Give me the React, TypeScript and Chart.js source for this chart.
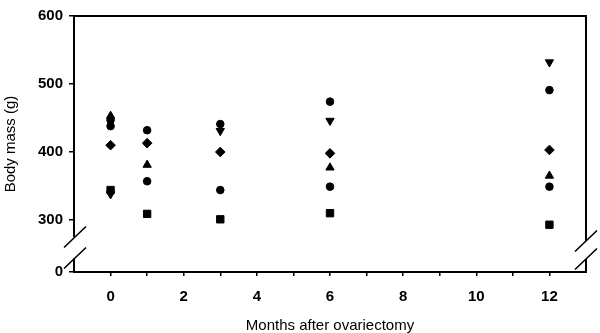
import React, { useEffect, useRef } from 'react';
import { Chart, registerables } from 'chart.js';

Chart.register(...registerables);

// Data (body mass in g)
const months = [0, 1, 3, 6, 12];
const circleA = [447, 432, 441, 474, 491];
const circleB = [438, 357, 344, 349, 349];
const triangleUp = [453, 381, null, 377, 365];
const triangleDown = [338, null, 431, 446, 532];
const diamond = [410, 413, 400, 398, 403];
const square = [344, 309, 301, 310, 293];

// Axis ticks
const yTickValues = [300, 400, 500, 600];
const xTickValues = [0, 1, 2, 3, 4, 5, 6, 7, 8, 9, 10, 11, 12];
const xLabelValues = [0, 2, 4, 6, 8, 10, 12];

// Broken y axis: the scale value where the "0" tick is drawn
const AXIS_ZERO = 223.5;

const toPoints = (vals: (number | null)[]) =>
  months.map((m, i) => ({ x: m, y: vals[i] }));

const framePlugin = {
  id: 'brokenFrame',
  afterDraw(chart: any) {
    const { ctx, chartArea } = chart;
    const { left, right, top, bottom } = chartArea;
    ctx.save();
    ctx.strokeStyle = '#000';
    ctx.lineCap = 'butt';
    ctx.lineWidth = 2;
    ctx.beginPath();
    ctx.moveTo(left, top);
    ctx.lineTo(right, top);
    ctx.moveTo(left, bottom);
    ctx.lineTo(right, bottom);
    ctx.moveTo(left, top - 1);
    ctx.lineTo(left, bottom - 35);
    ctx.moveTo(left, bottom - 14);
    ctx.lineTo(left, bottom + 1);
    ctx.moveTo(right, top - 1);
    ctx.lineTo(right, bottom - 31);
    ctx.moveTo(right, bottom - 13);
    ctx.lineTo(right, bottom + 1);
    ctx.stroke();
    ctx.lineWidth = 1.6;
    ctx.beginPath();
    const slash = (cx: number, cy: number) => {
      ctx.moveTo(cx - 11, cy + 10.5);
      ctx.lineTo(cx + 11, cy - 10.5);
    };
    slash(left + 1, bottom - 35);
    slash(left + 1, bottom - 14);
    slash(right, bottom - 31);
    slash(right, bottom - 13);
    ctx.stroke();
    ctx.restore();
  },
};

export default function App() {
  const ref = useRef<HTMLCanvasElement | null>(null);

  useEffect(() => {
    document.body.style.margin = '0';
    const canvas = ref.current;
    if (!canvas) return;
    const common = {
      backgroundColor: '#000',
      borderColor: '#000',
      borderWidth: 1,
      showLine: false,
    };
    const tickFont = { family: 'Liberation Sans, Arial', size: 15, weight: 'bold' };
    const chart = new Chart(canvas, {
      type: 'scatter',
      data: {
        datasets: [
          { ...common, label: 'A', data: toPoints(circleA), pointStyle: 'circle', pointRadius: 3.8 },
          { ...common, label: 'B', data: toPoints(circleB), pointStyle: 'circle', pointRadius: 3.8 },
          { ...common, label: 'D', data: toPoints(diamond), pointStyle: 'rectRot', pointRadius: 4.8 },
          { ...common, label: 'U', data: toPoints(triangleUp), pointStyle: 'triangle', pointRadius: 4.8 },
          { ...common, label: 'V', data: toPoints(triangleDown), pointStyle: 'triangle', pointRotation: 180, pointRadius: 4.8 },
          { ...common, label: 'S', data: toPoints(square), pointStyle: 'rect', pointRadius: 5.2 },
        ] as any,
      },
      plugins: [framePlugin],
      options: {
        responsive: false,
        animation: false,
        devicePixelRatio: 1,
        layout: { padding: { top: 16, right: 14, left: 0, bottom: 0 } },
        plugins: { legend: { display: false }, tooltip: { enabled: false } },
        scales: {
          x: {
            type: 'linear',
            min: -1,
            max: 13,
            afterBuildTicks: (scale: any) => {
              scale.ticks = xTickValues.map((v) => ({ value: v }));
            },
            afterFit: (scale: any) => {
              scale.height = 61;
            },
            border: { display: false },
            grid: {
              drawOnChartArea: false,
              drawTicks: true,
              tickLength: 4,
              tickColor: '#000',
              lineWidth: 1.5,
            },
            ticks: {
              autoSkip: false,
              maxRotation: 0,
              padding: 12,
              color: '#000',
              font: tickFont,
              callback: (v: any) => (xLabelValues.includes(Number(v)) ? String(v) : ''),
            },
            title: {
              display: true,
              text: 'Months after ovariectomy',
              color: '#000',
              font: { family: 'Liberation Sans, Arial', size: 15, lineHeight: 1 },
              padding: { top: 0, bottom: 0 },
            },
          },
          y: {
            type: 'linear',
            min: AXIS_ZERO,
            max: 600,
            afterBuildTicks: (scale: any) => {
              scale.ticks = [AXIS_ZERO, ...yTickValues].map((v) => ({ value: v }));
            },
            afterFit: (scale: any) => {
              scale.width = 74;
            },
            border: { display: false },
            grid: {
              drawOnChartArea: false,
              drawTicks: true,
              tickLength: 5,
              tickColor: '#000',
              lineWidth: 1.5,
            },
            ticks: {
              autoSkip: false,
              padding: 6,
              color: '#000',
              font: tickFont,
              callback: (v: any) => (Number(v) === AXIS_ZERO ? '0' : String(v)),
            },
            title: {
              display: true,
              text: 'Body mass (g)',
              color: '#000',
              font: { family: 'Liberation Sans, Arial', size: 15 },
              padding: { top: 2, bottom: 0 },
            },
          },
        },
      } as any,
    });
    return () => chart.destroy();
  }, []);

  return (
    <div style={{ width: 600, height: 333 }}>
      <canvas ref={ref} width={600} height={333} style={{ display: 'block' }} />
    </div>
  );
}
